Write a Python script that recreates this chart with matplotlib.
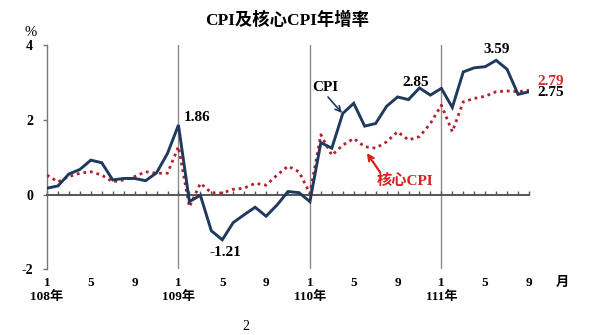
"""CPI and core CPI year-over-year growth, 108-111 (ROC years)."""

import matplotlib
matplotlib.use("Agg")
import matplotlib.pyplot as plt

FONT = ["Liberation Serif", "Noto Sans CJK TC", "DejaVu Sans"]
plt.rcParams["font.family"] = FONT

# monthly YoY growth (%), Jan 108 .. Sep 111
cpi = [0.17, 0.23, 0.55, 0.67, 0.92, 0.85, 0.39, 0.43, 0.43, 0.37, 0.58, 1.10,
       1.86, -0.19, -0.02, -0.97, -1.21, -0.75, -0.54, -0.34, -0.58, -0.28, 0.08, 0.05,
       -0.19, 1.39, 1.24, 2.17, 2.44, 1.83, 1.90, 2.36, 2.61, 2.54, 2.85, 2.66,
       2.84, 2.33, 3.28, 3.39, 3.42, 3.59, 3.35, 2.68, 2.75]
core = [0.52, 0.34, 0.48, 0.57, 0.61, 0.52, 0.34, 0.39, 0.48, 0.61, 0.57, 0.57,
        1.28, -0.33, 0.30, 0.05, 0.04, 0.14, 0.17, 0.30, 0.25, 0.52, 0.76, 0.61,
        0.03, 1.60, 1.05, 1.32, 1.50, 1.28, 1.24, 1.41, 1.68, 1.46, 1.55, 1.90,
        2.39, 1.68, 2.48, 2.57, 2.63, 2.75, 2.77, 2.75, 2.79]
years = ["108年", "109年", "110年", "111年"]
month_labels = ["1", "5", "9"]
y_ticks = [-2, 0, 2, 4]

NAVY = "#1f3a5c"
RED = "#b3202e"
GRID = "#8c8c8c"

fig = plt.figure(figsize=(5.89, 3.35), dpi=100)
ax = fig.add_axes([47 / 589, 1 - 269.3 / 335, 482 / 589, 224.3 / 335])

x = list(range(len(cpi)))
ax.plot(x, core, color=RED, lw=2.0, linestyle=(0, (1, 1.4)), zorder=3)
ax.plot(x, cpi, color=NAVY, lw=2.1, solid_joinstyle="miter", zorder=4)

for i in range(12, len(cpi), 12):
    ax.axvline(i, color=GRID, lw=1, zorder=1)

ax.set_xlim(0, len(cpi) - 1)
ax.set_ylim(-2, 4)
for s in ["top", "right"]:
    ax.spines[s].set_visible(False)
ax.spines["bottom"].set_position(("data", 0))
ax.spines["bottom"].set_color("#555555")
ax.spines["bottom"].set_linewidth(1.4)
ax.spines["left"].set_color("#777777")
ax.spines["left"].set_linewidth(1)

ax.set_xticks(x)
ax.tick_params(axis="x", direction="in", length=3, width=1, color="#555555",
               labelbottom=False)
ax.set_yticks(y_ticks)
ax.set_yticklabels([str(v) for v in y_ticks], fontweight="bold", fontsize=10)
ax.tick_params(axis="y", direction="out", length=3, width=1, color="#777777", pad=7)

# month and year labels under the plot
for k, yr in enumerate(years):
    for m in month_labels:
        idx = k * 12 + int(m) - 1
        if idx < len(cpi):
            ax.text(idx, -2.37, m, ha="center", va="center", fontsize=9.5,
                    fontweight="bold", clip_on=False)
    ax.text(k * 12, -2.74, yr, ha="center", va="center", fontsize=9.5,
            fontweight="bold", clip_on=False)
ax.text(47, -2.37, "月", ha="center", va="center", fontsize=9.5, fontweight="bold",
        clip_on=False)
ax.text(-1.46, 4.34, "%", ha="center", va="center", fontsize=10.5, clip_on=False)

# value callouts
ax.text(12.5, 2.05, "1.86", ha="left", va="center", fontsize=11, fontweight="bold")
ax.text(16.25, -1.54, "-1.21", ha="center", va="center", fontsize=11, fontweight="bold")
ax.text(33.68, 3.01, "2.85", ha="center", va="center", fontsize=11, fontweight="bold")
ax.text(41.08, 3.89, "3.59", ha="center", va="center", fontsize=11, fontweight="bold")
ax.text(44.73, 3.03, "2.79", ha="left", va="center", fontsize=11, fontweight="bold",
        color="#e0262a", clip_on=False)
ax.text(44.73, 2.72, "2.75", ha="left", va="center", fontsize=11, fontweight="bold",
        clip_on=False)

# series labels with arrows
ax.text(25.38, 2.85, "CPI", ha="center", va="center", fontsize=11, fontweight="bold")
ax.annotate("", xy=(26.93, 2.18), xytext=(25.65, 2.61),
            arrowprops=dict(arrowstyle="->", color=NAVY, lw=1.2,
                            shrinkA=0, shrinkB=0))
ax.text(32.68, 0.36, "核心CPI", ha="center", va="center", fontsize=11,
        fontweight="bold", color="#d42020")
ax.annotate("", xy=(29.2, 1.11), xytext=(30.4, 0.60),
            arrowprops=dict(arrowstyle="->", color="#d42020", lw=1.6,
                            shrinkA=0, shrinkB=0))

fig.text(287.5 / 589, 1 - 20 / 335, "CPI及核心CPI年增率", ha="center", va="center",
         fontsize=12.5, fontweight="bold")
fig.text(246 / 589, 1 - 326 / 335, "2", ha="center", va="center", fontsize=10)

fig.savefig("out.png", dpi=100)
